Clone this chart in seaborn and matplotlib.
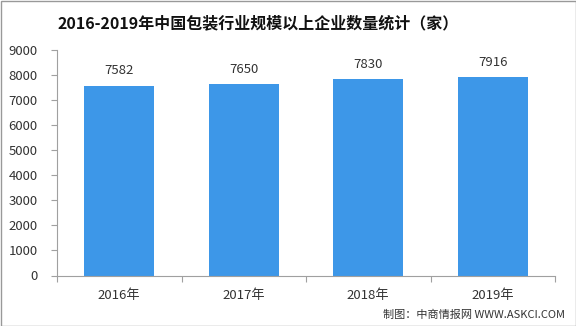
import matplotlib
matplotlib.use("Agg")
import matplotlib.pyplot as plt
import seaborn as sns
import pandas as pd
import numpy as np

years = ["2016年", "2017年", "2018年", "2019年"]
counts = [7582, 7650, 7830, 7916]
title = "2016-2019年中国包装行业规模以上企业数量统计（家）"
source = "制图：中商情报网 WWW.ASKCI.COM"

sns.set_theme(style="white")
plt.rcParams['font.family'] = ['Noto Sans CJK SC', 'DejaVu Sans']

df = pd.DataFrame({"year": years, "count": counts})

fig = plt.figure(figsize=(5.76, 3.26), dpi=100)
ax = fig.add_axes([57/576, 1-275.5/326, (555-57)/576, (275.5-50)/326])

sns.barplot(data=df, x="year", y="count", color="#3d97e8", width=0.56,
            saturation=1, ax=ax, edgecolor="none")

ax.set_ylim(0, 9000)
ax.set_xlim(-0.5, 3.5)
ax.set_yticks(np.arange(0, 9001, 1000))
ax.set_xlabel("")
ax.set_ylabel("")
for s in ["top", "right"]:
    ax.spines[s].set_visible(False)
for s in ["left", "bottom"]:
    ax.spines[s].set_color("#a0a0a0")
    ax.spines[s].set_linewidth(0.8)

ax.tick_params(axis="y", which="major", left=True, length=4, width=0.8,
               color="#a0a0a0", labelsize=9.5, labelcolor="#333333", pad=10)
ax.tick_params(axis="x", which="major", bottom=False, length=0,
               labelsize=9.5, labelcolor="#333333", pad=10)
ax.set_xticks(np.arange(-0.5, 4, 1), minor=True)
ax.tick_params(axis="x", which="minor", bottom=True, length=4, width=0.8,
               color="#a0a0a0")

for i, v in enumerate(counts):
    ax.text(i, v + 330, str(v), ha="center", va="bottom", fontsize=9.5, color="#333333")

fig.text(258/576, 1-23/326, title, ha="center", va="center", fontsize=11.5,
         fontweight="bold", color="#111111")
fig.text(565/576, 1-315/326, source, ha="right", va="center", fontsize=8,
         color="#333333")

border = plt.Rectangle((0.5/576, 0.5/326), 575/576, 325/326, transform=fig.transFigure,
                       fill=False, edgecolor="#999999", linewidth=1)
fig.patches.append(border)

fig.savefig("out.png", dpi=100)
